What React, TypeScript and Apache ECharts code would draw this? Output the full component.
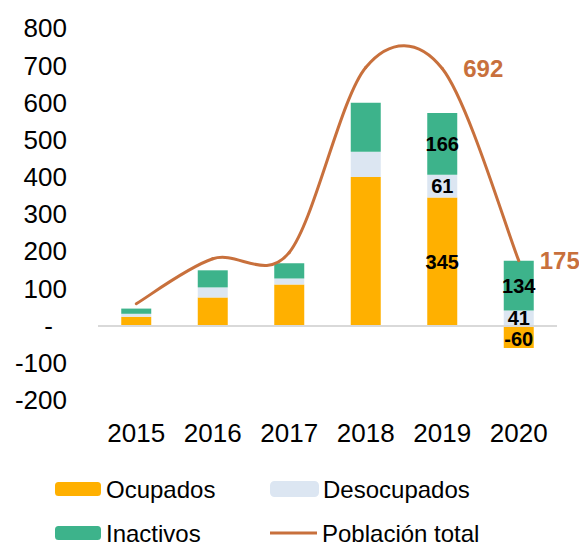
import React, { useEffect, useRef } from "react";
import * as echarts from "echarts";

const years = ["2015", "2016", "2017", "2018", "2019", "2020"];
const ocupados = [24, 76, 111, 400, 345, -60];
const desocupados = [8, 27, 16, 68, 61, 41];
const inactivos = [14, 46, 41, 132, 166, 134];
const poblacionTotal = [59, 180, 197, 695, 692, 175];
const barLabelYears = ["2019", "2020"];
const lineLabelYears = ["2019", "2020"];

const C_OCU = "#FFB000";
const C_DES = "#DCE6F2";
const C_INA = "#3DB38B";
const C_LINE = "#C8703C";

const FONT = "'Liberation Sans', Arial, sans-serif";

function barData(values: number[]) {
  return values.map((v, i) => ({
    value: v,
    label: { show: barLabelYears.includes(years[i]), offset: [0, v < 0 ? 2 : 0] },
  }));
}

// Excel-like smoothed segment (Bezier with limited Catmull-Rom tangents)
function excelSegment(p0: number[], p1: number[], p2: number[], p3: number[]) {
  const dist = (a: number[], b: number[]) => Math.hypot(a[0] - b[0], a[1] - b[1]);
  const d02 = dist(p0, p2);
  const d12 = dist(p1, p2);
  const d13 = dist(p1, p3);
  let f0 = 1 / 6;
  let f1 = 1 / 6;
  if (d02 / 6 >= d12 / 2 && d02 > 0) f0 = d12 / 2 / d02;
  if (d13 / 6 >= d12 / 2 && d13 > 0) f1 = d12 / 2 / d13;
  const c1 = [p1[0] + (p2[0] - p0[0]) * f0, p1[1] + (p2[1] - p0[1]) * f0];
  const c2 = [p2[0] - (p3[0] - p1[0]) * f1, p2[1] - (p3[1] - p1[1]) * f1];
  return `M${p1[0]},${p1[1]} C${c1[0]},${c1[1]} ${c2[0]},${c2[1]} ${p2[0]},${p2[1]}`;
}

const legendBase = {
  orient: "horizontal",
  itemWidth: 46,
  itemHeight: 14,
  padding: 0,
  textStyle: { fontSize: 24, color: "#000", fontFamily: FONT },
};

export default function App() {
  const ref = useRef<HTMLDivElement>(null);
  useEffect(() => {
    if (!ref.current) return;
    const chart = echarts.init(ref.current, null, { renderer: "svg" });
    const barLabel = {
      position: "inside",
      color: "#000",
      fontSize: 20,
      fontWeight: "bold",
      fontFamily: FONT,
    };
    const n = poblacionTotal.length;
    chart.setOption({
      animation: false,
      textStyle: { fontFamily: FONT },
      grid: { left: 98, right: 22, top: 28.4, bottom: 146 },
      xAxis: {
        type: "category",
        data: years,
        axisLine: { show: false, onZero: false },
        axisTick: { show: false },
        axisLabel: { fontSize: 26, color: "#000", margin: 20, fontFamily: FONT },
      },
      yAxis: {
        type: "value",
        min: -200,
        max: 800,
        interval: 100,
        splitLine: { show: false },
        axisLine: { show: false },
        axisTick: { show: false },
        axisLabel: {
          fontSize: 26,
          color: "#000",
          margin: 31,
          fontFamily: FONT,
          formatter: (v: number) => (v === 0 ? "{z|-}" : String(v)),
          rich: { z: { fontSize: 26, color: "#000", padding: [0, 14, 0, 0], fontFamily: FONT } },
        },
      },
      legend: [
        { ...legendBase, left: 55, top: 477, data: ["Ocupados"] },
        { ...legendBase, left: 270, top: 477, itemWidth: 47, data: ["Desocupados"] },
        { ...legendBase, left: 55, top: 521, data: ["Inactivos"] },
        {
          ...legendBase,
          left: 270,
          top: 521,
          itemWidth: 47,
          data: [{ name: "Población total", icon: "path://M0,0H47V3H0Z" }],
        },
      ],
      series: [
        {
          name: "Ocupados",
          type: "bar",
          stack: "a",
          barWidth: 30,
          itemStyle: { color: C_OCU },
          label: barLabel,
          data: barData(ocupados),
          markLine: {
            silent: true,
            symbol: ["none", "none"],
            label: { show: false },
            lineStyle: { color: "#D9D9D9", width: 2, type: "solid" },
            data: [{ yAxis: 0 }],
          },
        },
        {
          name: "Desocupados",
          type: "bar",
          stack: "a",
          barWidth: 30,
          itemStyle: { color: C_DES, borderColor: C_DES, borderWidth: 1.5 },
          label: barLabel,
          data: barData(desocupados),
        },
        {
          name: "Inactivos",
          type: "bar",
          stack: "a",
          barWidth: 30,
          itemStyle: { color: C_INA },
          label: barLabel,
          data: barData(inactivos),
        },
        {
          name: "Población total",
          type: "custom",
          z: 5,
          itemStyle: { color: C_LINE },
          encode: { x: 0, y: 1 },
          data: poblacionTotal.map((v, i) => [i, v]),
          renderItem: (params: any, api: any) => {
            const i = params.dataIndex;
            const pts = poblacionTotal.map((v, j) => api.coord([j, v]));
            const children: any[] = [];
            if (i > 0) {
              const p1 = pts[i - 1];
              const p2 = pts[i];
              const p0 = i - 2 >= 0 ? pts[i - 2] : p1;
              const p3 = i + 1 < n ? pts[i + 1] : p2;
              children.push({
                type: "path",
                shape: { pathData: excelSegment(p0, p1, p2, p3) },
                style: { stroke: C_LINE, lineWidth: 3, fill: "none", lineCap: "round" },
              });
            }
            if (lineLabelYears.includes(years[i])) {
              children.push({
                type: "text",
                x: pts[i][0] + 21,
                y: pts[i][1],
                style: {
                  text: String(poblacionTotal[i]),
                  fill: C_LINE,
                  fontSize: 24,
                  fontWeight: "bold",
                  fontFamily: FONT,
                  align: "left",
                  verticalAlign: "middle",
                },
              });
            }
            return { type: "group", children };
          },
        },
      ],
    });
    return () => chart.dispose();
  }, []);
  return (
    <div
      ref={ref}
      style={{ position: "fixed", left: 0, top: 0, width: 579, height: 546, background: "#fff" }}
    />
  );
}
